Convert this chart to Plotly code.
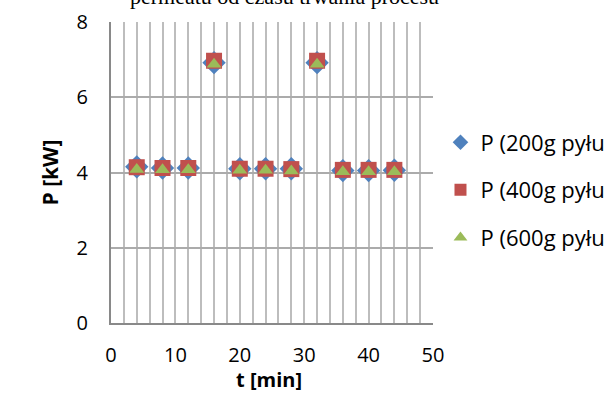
import plotly.graph_objects as go

# Data
t_min = [4, 8, 12, 16, 20, 24, 28, 32, 36, 40, 44]
p_200g = [4.15, 4.12, 4.12, 6.92, 4.10, 4.10, 4.10, 6.92, 4.05, 4.05, 4.06]
p_400g = [4.14, 4.12, 4.12, 6.97, 4.10, 4.10, 4.09, 6.97, 4.07, 4.07, 4.07]
p_600g = [4.08, 4.07, 4.07, 6.88, 4.06, 4.06, 4.04, 6.88, 4.02, 4.02, 4.02]
series_names = ["P (200g pyłu", "P (400g pyłu", "P (600g pyłu"]
x_ticks = [0, 10, 20, 30, 40, 50]
y_ticks = [0, 2, 4, 6, 8]
title_text = "permeatu od czasu trwania procesu"
x_title = "t [min]"
y_title = "P [kW]"

colors = ["#4F81BD", "#C0504D", "#9BBB59"]
symbols = ["diamond", "square", "triangle-up"]
sizes = [18, 16, 13]

fig = go.Figure()
for i, (name, ys) in enumerate(zip(series_names, [p_200g, p_400g, p_600g])):
    fig.add_trace(go.Scatter(
        x=t_min, y=ys, mode="markers", name=name, legendgroup=f"g{i}",
        marker=dict(symbol=symbols[i], size=sizes[i], color=colors[i], line=dict(width=0)),
    ))

L, R, T, B = 111, 610 - 433.5, 21.5, 394 - 322.7
W, H = 610, 394
pw = W - L - R
ph = H - T - B

grid_col = "#BDBDBD"
axis_col = "#898989"
tick_font = dict(family="Open Sans", size=20, color="#000000")

fig.update_layout(
    width=W, height=H,
    margin=dict(l=L, r=R, t=T, b=B, autoexpand=False),
    paper_bgcolor="white", plot_bgcolor="white",
    showlegend=True,
    legend=dict(
        x=(441 - L) / pw, xanchor="left",
        y=(322.7 - 121) / ph, yanchor="top",
        font=dict(family="Open Sans", size=22, color="#000000"),
        tracegroupgap=16, itemsizing="constant",
        bgcolor="rgba(0,0,0,0)",
    ),
    xaxis=dict(
        range=[0, 50], tickvals=x_ticks, ticktext=[str(v) for v in x_ticks],
        showgrid=True, gridcolor=grid_col, gridwidth=1.5,
        minor=dict(dtick=2, showgrid=True, gridcolor=grid_col, gridwidth=1.5),
        showline=True, linecolor=axis_col, linewidth=2,
        zeroline=False, ticks="outside", ticklen=13, tickcolor="rgba(0,0,0,0)",
        tickfont=tick_font, fixedrange=True,
    ),
    yaxis=dict(
        range=[0, 8], tickvals=y_ticks, ticktext=[str(v) for v in y_ticks],
        showgrid=True, gridcolor="#ABABAB", gridwidth=1.5,
        showline=True, linecolor=axis_col, linewidth=2,
        zeroline=False, ticks="", ticklabelstandoff=17,
        tickfont=tick_font, fixedrange=True,
    ),
    annotations=[
        dict(text=title_text, xref="paper", yref="paper",
             x=(285 - L) / pw, y=1.035, xanchor="center", yanchor="bottom",
             showarrow=False,
             font=dict(family="Liberation Serif", size=22, color="#000000")),
        dict(text="<b>" + x_title + "</b>", xref="paper", yref="paper",
             x=(269 - L) / pw, y=(322.7 - 379) / ph, xanchor="center", yanchor="middle",
             showarrow=False,
             font=dict(family="Open Sans", size=20, color="#000000")),
        dict(text="<b>" + y_title + "</b>", xref="paper", yref="paper",
             x=(50 - L) / pw, y=(322.7 - 172) / ph, xanchor="center", yanchor="middle",
             textangle=-90, showarrow=False,
             font=dict(family="Open Sans", size=21, color="#000000")),
    ],
)

fig.write_html("out.html")
